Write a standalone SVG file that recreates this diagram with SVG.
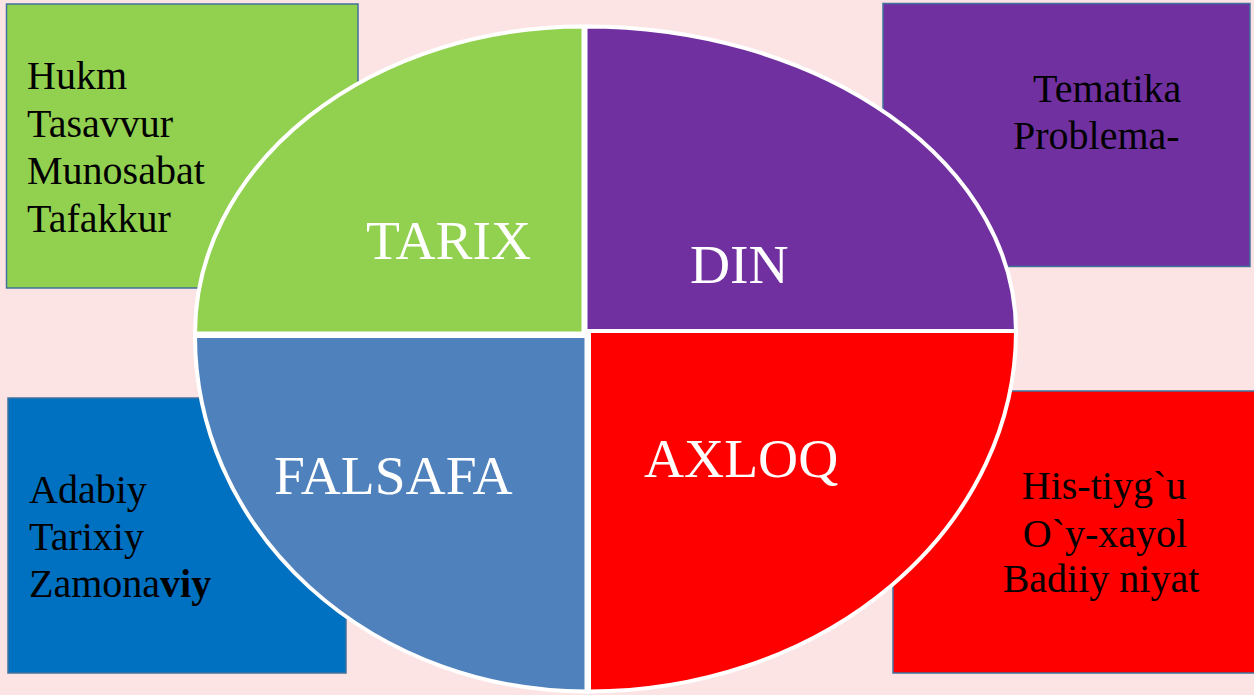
<svg xmlns="http://www.w3.org/2000/svg" width="1254" height="695" viewBox="0 0 1254 695">
<style>
.box{stroke:#41719C;stroke-width:1.5}
.q{stroke:#FFFFFF;stroke-width:4;stroke-linejoin:miter}
.t{font-family:"Liberation Serif","Times New Roman",serif;font-size:40px;fill:#000000}
.lbl{font-family:"Liberation Serif","Times New Roman",serif;font-size:55.5px;fill:#FFFFFF}
</style>
<rect x="0" y="0" width="1254" height="695" fill="#FDE4E4"/>
<g id="box-green">
<rect class="box" x="6.5" y="4" width="351.5" height="284" fill="#92D050"/>
<text class="t" x="27" y="89">Hukm</text>
<text class="t" x="27" y="137">Tasavvur</text>
<text class="t" x="27" y="184">Munosabat</text>
<text class="t" x="27" y="232">Tafakkur</text>
</g>
<g id="box-purple">
<rect class="box" x="883" y="3.5" width="367" height="263" fill="#7030A0"/>
<text class="t" x="1033" y="102">Tematika</text>
<text class="t" x="1013" y="149">Problema-</text>
</g>
<g id="box-blue">
<rect class="box" x="8" y="398" width="338" height="275" fill="#0070C0"/>
<text class="t" x="29" y="503">Adabiy</text>
<text class="t" x="29" y="550">Tarixiy</text>
<text class="t" x="29" y="597">Zamona<tspan font-weight="bold">viy</tspan></text>
</g>
<g id="box-red">
<rect class="box" x="893" y="391" width="370" height="282" fill="#FF0000"/>
<text class="t" x="1104" y="499" text-anchor="middle">His-tiyg`u</text>
<text class="t" x="1105" y="547" text-anchor="middle">O`y-xayol</text>
<text class="t" x="1101" y="592" text-anchor="middle">Badiiy niyat</text>
</g>
<g id="connectors"></g>
<g id="q-tarix">
<path class="q" fill="#92D050" d="M 583.5 333.5 L 195 333.5 A 388.5 307 0 0 1 583.5 26.5 Z"/>
<text class="lbl" x="366" y="259">TARIX</text>
</g>
<g id="q-din">
<path class="q" fill="#7030A0" d="M 585.5 331.5 L 585.5 26.5 A 430.5 305 0 0 1 1016 331.5 Z"/>
<text class="lbl" x="690" y="283">DIN</text>
</g>
<g id="q-falsafa">
<path class="q" fill="#4F81BD" d="M 586.5 336 L 586.5 691.5 A 391.5 355.5 0 0 1 195 336 Z"/>
<text class="lbl" x="274" y="494">FALSAFA</text>
</g>
<g id="q-axloq">
<path class="q" fill="#FF0000" d="M 589 331 L 1016 331 A 427 360.5 0 0 1 589 691.5 Z"/>
<text class="lbl" x="644" y="477">AXLOQ</text>
</g>
</svg>
